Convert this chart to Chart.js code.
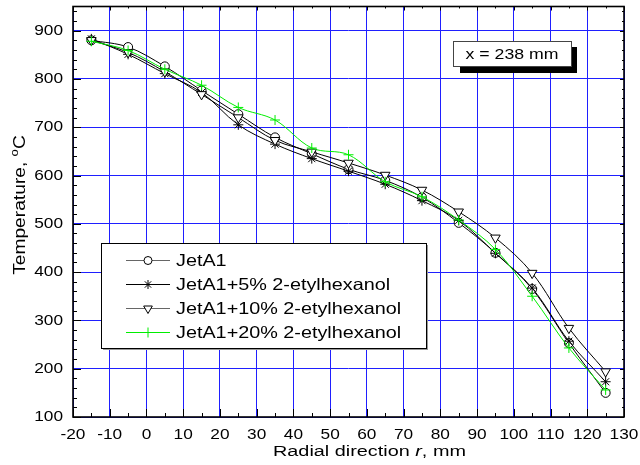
<!DOCTYPE html>
<html>
<head>
<meta charset="utf-8">
<script src="https://cdn.jsdelivr.net/npm/chart.js@4.4.0/dist/chart.umd.min.js"></script>
<style>
  html, body { margin: 0; padding: 0; background: #fff; }
</style>
</head>
<body>
<canvas id="chart" width="640" height="465"></canvas>
<script>
// data
const radius = [-15, -5, 5, 15, 25, 35, 45, 55, 65, 75, 85, 95, 105, 115, 125];
const jetA1 = [880, 866, 826, 776, 727, 679, 645, 613, 590, 555, 502, 440, 365, 253, 150];
const jetA1_5 = [883, 851, 811, 772, 705, 665, 635, 609, 582, 548, 507, 439, 367, 257, 173];
const jetA1_10 = [880, 855, 815, 768, 720, 673, 649, 626, 601, 570, 525, 471, 398, 284, 194];
const jetA1_20 = [878, 859, 820, 787, 741, 715, 657, 643, 587, 556, 508, 447, 350, 243, 156];

const seriesNames = ["JetA1", "JetA1+5% 2-etylhexanol", "JetA1+10% 2-etylhexanol", "JetA1+20% 2-etylhexanol"];
const xTickLabels = [-20, -10, 0, 10, 20, 30, 40, 50, 60, 70, 80, 90, 100, 110, 120, 130];
const yTickLabels = [100, 200, 300, 400, 500, 600, 700, 800, 900];
const noteText = "x = 238 mm";

const FONT = "'Liberation Sans', Arial, sans-serif";
const GRID_BLUE = "#1f1fff";
const GREEN = "#00ee00";

function toPoints(ys) {
  return radius.map((r, i) => ({ x: r, y: ys[i] }));
}

// stretched text helper (the source font renders wide)
function wideText(ctx, text, x, y, size, sx, align, style) {
  ctx.save();
  ctx.font = (style || "") + " " + size + "px " + FONT;
  const w = ctx.measureText(text).width * sx;
  let x0 = x;
  if (align === "center") x0 = x - w / 2;
  if (align === "right") x0 = x - w;
  ctx.translate(x0, y);
  ctx.scale(sx, 1);
  ctx.textAlign = "left";
  ctx.fillText(text, 0, 0);
  ctx.restore();
  return w;
}

const pointCfg = [
  { style: "circle", rot: 0, r: 4.5, lr: 4, color: "#000", fill: "#fff", legendLine: "#666" },
  { style: "star", rot: 0, r: 5, lr: 4.5, color: "#000", fill: "#000", legendLine: "#000" },
  { style: "triangle", rot: 180, r: 5.5, lr: 5, color: "#000", fill: "#fff", legendLine: "#666" },
  { style: "cross", rot: 0, r: 5, lr: 5, color: GREEN, fill: GREEN, legendLine: GREEN },
];

const frameAndTicks = {
  id: "frameAndTicks",
  beforeDatasetsDraw(chart) {
    const { ctx, chartArea: a, scales } = chart;
    ctx.save();
    ctx.strokeStyle = "#000";
    ctx.lineWidth = 1;
    ctx.beginPath();
    for (let v = -20; v <= 130; v += 5) {
      const px = Math.round(scales.x.getPixelForValue(v)) + 0.5;
      const len = v % 10 === 0 ? 8 : 4;
      ctx.moveTo(px, a.bottom); ctx.lineTo(px, a.bottom - len);
      ctx.moveTo(px, a.top); ctx.lineTo(px, a.top + (v % 10 === 0 ? 4 : 2));
    }
    for (let v = 100; v <= 950; v += 20) {
      const py = Math.round(scales.y.getPixelForValue(v)) + 0.5;
      const len = v % 100 === 0 ? 8 : 4;
      ctx.moveTo(a.left, py); ctx.lineTo(a.left + len, py);
      ctx.moveTo(a.right, py); ctx.lineTo(a.right - (v % 100 === 0 ? 4 : 2), py);
    }
    ctx.stroke();
    ctx.lineWidth = 1.6;
    ctx.strokeRect(a.left, a.top, a.right - a.left, a.bottom - a.top);
    ctx.restore();
  },
  afterDraw(chart) {
    const { ctx, chartArea: a, scales } = chart;
    ctx.save();
    ctx.fillStyle = "#000";

    // tick labels
    ctx.textBaseline = "middle";
    yTickLabels.forEach(v => {
      wideText(ctx, String(v), 63, scales.y.getPixelForValue(v), 15, 1.15, "right");
    });
    ctx.textBaseline = "alphabetic";
    xTickLabels.forEach(v => {
      wideText(ctx, String(v), scales.x.getPixelForValue(v), 439, 15, 1.15, "center");
    });

    // x title with italic r
    let x = 273;
    x += wideText(ctx, "Radial direction ", x, 456, 15.5, 1.28, "left");
    x += wideText(ctx, "r", x, 456, 15.5, 1.28, "left", "italic");
    wideText(ctx, ", mm", x, 456, 15.5, 1.28, "left");

    // y title, rotated, superscript o
    ctx.save();
    ctx.translate(25, 205);
    ctx.rotate(-Math.PI / 2);
    ctx.font = "16px " + FONT;
    const sx = 1.2;
    const w1 = ctx.measureText("Temperature, ").width * sx;
    ctx.font = "11px " + FONT;
    const w2 = ctx.measureText("o").width * sx;
    ctx.font = "16px " + FONT;
    const w3 = ctx.measureText("C").width * sx;
    let tx = -(w1 + w2 + w3) / 2;
    tx += wideText(ctx, "Temperature, ", tx, 0, 16, sx, "left");
    tx += wideText(ctx, "o", tx, -7, 11, sx, "left");
    wideText(ctx, "C", tx, 0, 16, sx, "left");
    ctx.restore();

    // legend
    const lx = 101, ly = 243, lw = 325, lh = 105;
    ctx.fillStyle = "#999";
    ctx.fillRect(lx + 2, ly + 2, lw, lh);
    ctx.fillStyle = "#fff";
    ctx.fillRect(lx, ly, lw, lh);
    ctx.strokeStyle = "#000";
    ctx.lineWidth = 1;
    ctx.strokeRect(lx + 0.5, ly + 0.5, lw, lh);
    seriesNames.forEach((name, i) => {
      const cy = 260 + i * 24;
      const pc = pointCfg[i];
      ctx.strokeStyle = pc.legendLine;
      ctx.lineWidth = 1;
      ctx.beginPath();
      ctx.moveTo(126, cy + 0.5);
      ctx.lineTo(170, cy + 0.5);
      ctx.stroke();
      ctx.fillStyle = pc.fill;
      ctx.strokeStyle = pc.color;
      Chart.helpers.drawPoint(ctx, { pointStyle: pc.style, rotation: pc.rot, radius: pc.lr, borderWidth: 1 }, 148, cy + 0.5);
      ctx.fillStyle = "#000";
      ctx.textBaseline = "middle";
      wideText(ctx, name, 176, cy + 1, 16.5, 1.2, "left");
    });

    // annotation box with drop shadow
    ctx.fillStyle = "#000";
    ctx.fillRect(460, 47, 117, 26);
    ctx.fillStyle = "#fff";
    ctx.fillRect(453, 41, 118, 25);
    ctx.strokeStyle = "#444";
    ctx.lineWidth = 1;
    ctx.strokeRect(453.5, 41.5, 118, 25);
    ctx.fillStyle = "#000";
    ctx.textBaseline = "alphabetic";
    wideText(ctx, noteText, 512, 59, 14.5, 1.22, "center");

    ctx.restore();
  }
};

function makeSet(i, ys) {
  const pc = pointCfg[i];
  return {
    label: seriesNames[i],
    data: toPoints(ys),
    borderColor: pc.color,
    backgroundColor: pc.fill,
    borderWidth: 1,
    tension: 0.35,
    pointStyle: pc.style,
    rotation: pc.rot,
    pointRadius: pc.r,
    pointBorderWidth: 1,
    pointBorderColor: pc.color,
    pointBackgroundColor: pc.fill,
  };
}

new Chart(document.getElementById("chart"), {
  type: "line",
  data: {
    datasets: [
      makeSet(3, jetA1_20),
      makeSet(2, jetA1_10),
      makeSet(1, jetA1_5),
      makeSet(0, jetA1),
    ],
  },
  options: {
    responsive: false,
    animation: false,
    devicePixelRatio: 1,
    layout: { padding: { left: 0, right: 16, top: 6, bottom: 0 } },
    plugins: { legend: { display: false }, tooltip: { enabled: false } },
    scales: {
      x: {
        type: "linear",
        min: -20,
        max: 130,
        afterBuildTicks: (scale) => {
          scale.ticks = xTickLabels.map(v => ({ value: v }));
        },
        afterFit: (scale) => { scale.height = 48; },
        ticks: { display: false },
        border: { display: false },
        grid: { color: GRID_BLUE, lineWidth: 1, drawTicks: false },
      },
      y: {
        type: "linear",
        min: 100,
        max: 950,
        afterBuildTicks: (scale) => {
          scale.ticks = yTickLabels.map(v => ({ value: v }));
        },
        afterFit: (scale) => { scale.width = 73; },
        ticks: { display: false },
        border: { display: false },
        grid: { color: GRID_BLUE, lineWidth: 1, drawTicks: false },
      },
    },
  },
  plugins: [frameAndTicks],
});
</script>
</body>
</html>
